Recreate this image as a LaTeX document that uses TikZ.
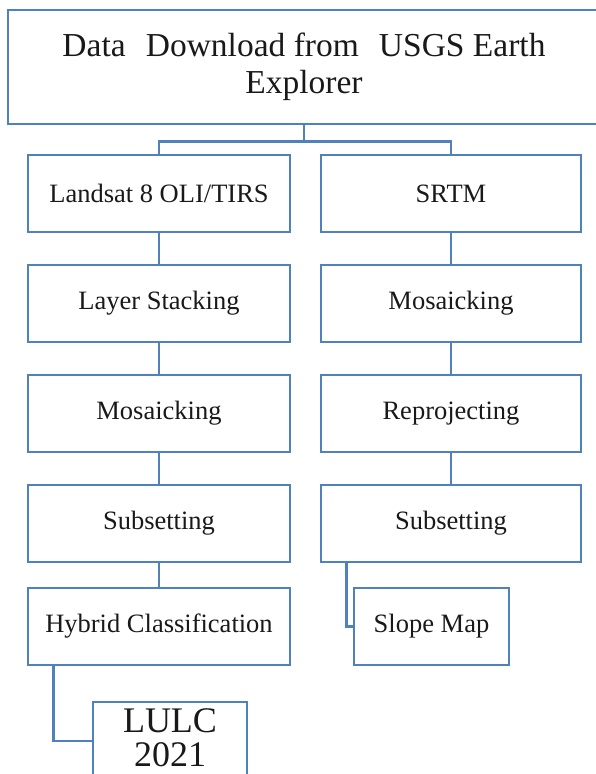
\documentclass[tikz,border=0pt]{standalone}
\usepackage{fontspec}
\setmainfont{Liberation Serif}
\usetikzlibrary{positioning}
\definecolor{boxblue}{RGB}{79,129,189}
\tikzset{
    flow-box/.style = {draw=boxblue, line width=2.6bp, rectangle, minimum width=262bp, minimum height=77bp, inner sep=0pt, text=black!90, font=\fontsize{26.5bp}{30bp}\selectfont},
    flow-line/.style = {draw=boxblue, line width=2.6bp},
}

\begin{document}
\begin{tikzpicture}[x=1bp, y=-1bp, node distance=30.4bp]
\useasboundingbox (0,0) rectangle (596,774);
\node[flow-box, minimum width=592bp, minimum height=114bp, align=center, font=\fontsize{33.5bp}{37bp}\selectfont] (source) at (304,67) {Data\hspace{0.6em}Download from\hspace{0.6em}USGS Earth\\Explorer};

% Landsat branch
\node[flow-box] (landsat) at (159,193.5) {Landsat 8 OLI/TIRS};
\node[flow-box, below=of landsat] (stack) {Layer Stacking};
\node[flow-box, below=of stack] (lmosaic) {Mosaicking};
\node[flow-box, below=of lmosaic] (lsub) {Subsetting};
\node[flow-box, below=23.4bp of lsub] (hybrid) {Hybrid Classification};
\node[flow-box, minimum width=154bp, minimum height=78bp, align=center, text depth=6bp, font=\fontsize{36bp}{34bp}\selectfont] (lulc) at (170,741) {LULC\\2021};

% SRTM branch
\node[flow-box, minimum width=260bp] (srtm) at (451,193.5) {SRTM};
\node[flow-box, minimum width=260bp, below=of srtm] (rmosaic) {Mosaicking};
\node[flow-box, minimum width=260bp, below=of rmosaic] (reproject) {Reprojecting};
\node[flow-box, minimum width=260bp, below=of reproject] (rsub) {Subsetting};
\node[flow-box, minimum width=155bp] (slope) at (431.5,626.5) {Slope Map};

\draw[flow-line] (source.south) -- ++(0,16) -| (landsat.north);
\draw[flow-line] (source.south) ++(0,16) -| (srtm.north);
\foreach \a/\b in {landsat/stack, stack/lmosaic, lmosaic/lsub, lsub/hybrid, srtm/rmosaic, rmosaic/reproject, reproject/rsub}
    \draw[flow-line] (\a) -- (\b);
\draw[flow-line] ([xshift=27bp]hybrid.south west) |- (lulc.west);
\draw[flow-line] ([xshift=27bp]rsub.south west) |- (slope.west);
\end{tikzpicture}
\end{document}
